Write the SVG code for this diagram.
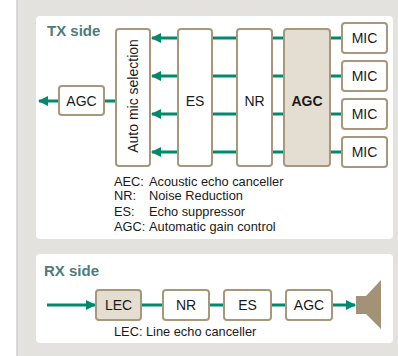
<svg xmlns="http://www.w3.org/2000/svg" width="398" height="356" viewBox="0 0 398 356">
<defs>
<style>
.bx{fill:#ffffff;stroke:#a8977c;stroke-width:2}
.hl{fill:#e4ddd2;stroke:#a8977c;stroke-width:2}
.ln{stroke:#00896b;stroke-width:3;fill:none}
.t{font-family:"Liberation Sans",Arial,sans-serif;font-size:14px;fill:#1a1a1a}
.lg{font-family:"Liberation Sans",Arial,sans-serif;font-size:12.8px;fill:#1a1a1a}
.ttl{font-family:"Liberation Sans",Arial,sans-serif;font-size:15px;font-weight:bold;fill:#4d7c7c}
</style>
<marker id="ah" viewBox="0 0 10 10" refX="9" refY="5" markerWidth="3.4" markerHeight="3.4" markerUnits="strokeWidth" orient="auto">
<path d="M0,0 L10,5 L0,10 Z" fill="#00896b"/>
</marker>
</defs>
<rect x="0" y="0" width="398" height="356" fill="#ffffff"/>
<rect x="17" y="0" width="381" height="356" fill="#e3e2df"/>
<line x1="17" y1="0" x2="17" y2="356" stroke="#cfcfcf" stroke-width="1.5"/>
<rect x="36" y="16" width="357" height="223" rx="4" fill="#ffffff"/>
<rect x="36" y="254" width="357" height="89" rx="4" fill="#ffffff"/>
<text class="ttl" x="47" y="36">TX side</text>
<text class="ttl" x="44" y="276">RX side</text>
<g id="connectors">
<line class="ln" x1="342" y1="38" x2="329" y2="38"/>
<line class="ln" x1="342" y1="76" x2="329" y2="76"/>
<line class="ln" x1="342" y1="114" x2="329" y2="114"/>
<line class="ln" x1="342" y1="152" x2="329" y2="152"/>
<line class="ln" x1="284" y1="38" x2="271" y2="38"/>
<line class="ln" x1="284" y1="76" x2="271" y2="76"/>
<line class="ln" x1="284" y1="114" x2="271" y2="114"/>
<line class="ln" x1="284" y1="152" x2="271" y2="152"/>
<line class="ln" x1="237" y1="38" x2="211" y2="38"/>
<line class="ln" x1="237" y1="76" x2="211" y2="76"/>
<line class="ln" x1="237" y1="114" x2="211" y2="114"/>
<line class="ln" x1="237" y1="152" x2="211" y2="152"/>
<line class="ln" x1="178" y1="38" x2="152" y2="38" marker-end="url(#ah)"/>
<line class="ln" x1="178" y1="76" x2="152" y2="76" marker-end="url(#ah)"/>
<line class="ln" x1="178" y1="114" x2="152" y2="114" marker-end="url(#ah)"/>
<line class="ln" x1="178" y1="152" x2="152" y2="152" marker-end="url(#ah)"/>
<line class="ln" x1="116" y1="101" x2="104" y2="101"/>
<line class="ln" x1="59" y1="101" x2="39" y2="101" marker-end="url(#ah)"/>
<line class="ln" x1="47" y1="305" x2="95" y2="305" marker-end="url(#ah)"/>
<line class="ln" x1="141" y1="305" x2="163" y2="305"/>
<line class="ln" x1="209" y1="305" x2="224" y2="305"/>
<line class="ln" x1="271" y1="305" x2="286" y2="305"/>
<line class="ln" x1="332" y1="305" x2="355" y2="305" marker-end="url(#ah)"/>
</g>
<g id="mic1"><rect class="bx" x="342" y="23" width="45" height="30" rx="3"/><text class="t" x="364.5" y="43" text-anchor="middle">MIC</text></g>
<g id="mic2"><rect class="bx" x="342" y="61" width="45" height="30" rx="3"/><text class="t" x="364.5" y="81" text-anchor="middle">MIC</text></g>
<g id="mic3"><rect class="bx" x="342" y="99" width="45" height="30" rx="3"/><text class="t" x="364.5" y="119" text-anchor="middle">MIC</text></g>
<g id="mic4"><rect class="bx" x="342" y="137" width="45" height="30" rx="3"/><text class="t" x="364.5" y="157" text-anchor="middle">MIC</text></g>
<g id="agc_tx"><rect class="hl" x="284" y="29" width="46" height="137" rx="3"/><text class="t" x="307" y="106" text-anchor="middle" font-weight="bold">AGC</text></g>
<g id="nr_tx"><rect class="bx" x="237" y="29" width="35" height="137" rx="3"/><text class="t" x="254.5" y="106" text-anchor="middle">NR</text></g>
<g id="es_tx"><rect class="bx" x="178" y="29" width="34" height="137" rx="3"/><text class="t" x="195" y="106" text-anchor="middle">ES</text></g>
<g id="ams"><rect class="bx" x="116" y="29" width="34" height="137" rx="3"/><text class="t" transform="translate(138,96) rotate(-90)" text-anchor="middle">Auto mic selection</text></g>
<g id="agc_out"><rect class="bx" x="59" y="86" width="45" height="29" rx="3"/><text class="t" x="81.5" y="105.5" text-anchor="middle">AGC</text></g>
<g id="legend">
<text class="lg" x="114" y="186">AEC:</text><text class="lg" x="149" y="186">Acoustic echo canceller</text>
<text class="lg" x="114" y="200">NR:</text><text class="lg" x="149" y="200">Noise Reduction</text>
<text class="lg" x="114" y="216">ES:</text><text class="lg" x="149" y="216">Echo suppressor</text>
<text class="lg" x="114" y="231">AGC:</text><text class="lg" x="149" y="231">Automatic gain control</text>
</g>
<g id="lec"><rect class="hl" x="96" y="290" width="45" height="30" rx="3"/><text class="t" x="118.5" y="310" text-anchor="middle">LEC</text></g>
<g id="nr_rx"><rect class="bx" x="163" y="290" width="46" height="30" rx="3"/><text class="t" x="186" y="310" text-anchor="middle">NR</text></g>
<g id="es_rx"><rect class="bx" x="224" y="290" width="47" height="30" rx="3"/><text class="t" x="247.5" y="310" text-anchor="middle">ES</text></g>
<g id="agc_rx"><rect class="bx" x="286" y="290" width="46" height="30" rx="3"/><text class="t" x="309" y="310" text-anchor="middle">AGC</text></g>
<g id="speaker">
<rect x="356" y="296" width="10" height="18" fill="#a39275"/>
<polygon points="366,296 381,280 381,329 366,314" fill="#a39275"/>
</g>
<text class="lg" x="114" y="336">LEC: Line echo canceller</text>
</svg>
